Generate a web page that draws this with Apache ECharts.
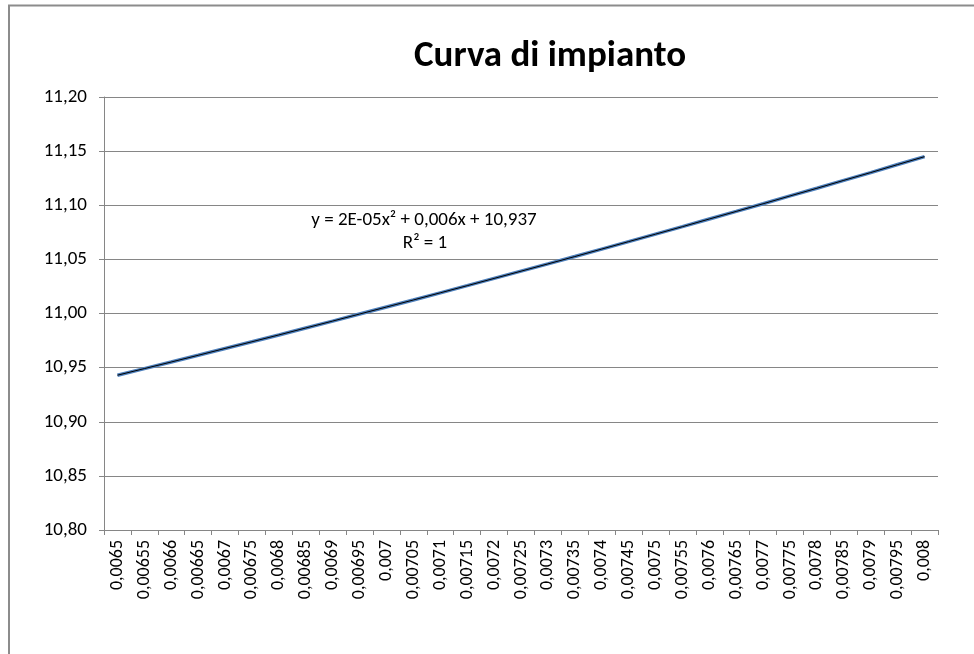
<!DOCTYPE html>
<html>
<head>
<meta charset="utf-8">
<script src="https://cdn.jsdelivr.net/npm/echarts@6/dist/echarts.min.js"></script>
<style>
  html, body { margin: 0; padding: 0; background: #fff; }
  #chart { width: 974px; height: 654px; }
</style>
</head>
<body>
<div id="chart"></div>
<script>
// categorie asse x (come in Excel, con la virgola)
var categories = ['0,0065','0,00655','0,0066','0,00665','0,0067','0,00675','0,0068','0,00685','0,0069','0,00695',
  '0,007','0,00705','0,0071','0,00715','0,0072','0,00725','0,0073','0,00735','0,0074','0,00745',
  '0,0075','0,00755','0,0076','0,00765','0,0077','0,00775','0,0078','0,00785','0,0079','0,00795','0,008'];

// valori
var impianto = [10.9430, 10.9491, 10.9552, 10.9614, 10.9677, 10.9739, 10.9802, 10.9866, 10.9930, 10.9995,
  11.0060, 11.0125, 11.0191, 11.0257, 11.0324, 11.0391, 11.0458, 11.0526, 11.0595, 11.0664,
  11.0733, 11.0802, 11.0873, 11.0943, 11.1014, 11.1086, 11.1157, 11.1230, 11.1302, 11.1376, 11.1449];

var titolo = 'Curva di impianto';
var equazione = 'y = 2E-05x² + 0,006x + 10,937';
var erre = 'R² = 1';

var font = 'Carlito, "Liberation Sans", sans-serif';
var grigio = '#868686';

var myChart = echarts.init(document.getElementById('chart'));
var option = {
  animation: false,
  backgroundColor: '#fff',
  title: {
    text: titolo,
    left: 545,
    top: 33,
    textAlign: 'center',
    textStyle: { fontFamily: font, fontSize: 37, fontWeight: 'bold', color: '#000' }
  },
  grid: { left: 104, right: 36, top: 97, bottom: 124 },
  xAxis: {
    type: 'category',
    data: categories,
    boundaryGap: true,
    axisLine: { lineStyle: { color: grigio, width: 1 } },
    axisTick: { show: true, length: 5, lineStyle: { color: grigio } },
    axisLabel: { rotate: 90, margin: 10, color: '#000', fontFamily: font, fontSize: 18, interval: 0 }
  },
  yAxis: {
    type: 'value',
    min: 10.8,
    max: 11.2,
    interval: 0.05,
    axisLine: { show: true, lineStyle: { color: grigio, width: 1 } },
    axisTick: { show: true, length: 5, lineStyle: { color: grigio } },
    axisLabel: {
      margin: 17, color: '#000', fontFamily: font, fontSize: 19,
      formatter: function (v) { return v.toFixed(2).replace('.', ','); }
    },
    splitLine: { lineStyle: { color: grigio, width: 1 } }
  },
  series: [
    {
      name: 'Curva',
      type: 'line',
      data: impianto,
      symbol: 'none',
      lineStyle: { color: '#4F81BD', width: 3.5 }
    },
    {
      name: 'Polinomiale',
      type: 'line',
      data: impianto,
      symbol: 'none',
      lineStyle: { color: '#000', width: 1 }
    }
  ],
  graphic: [
    {
      type: 'rect',
      silent: true,
      shape: { x: 9, y: 5.5, width: 1000, height: 700 },
      style: { fill: 'none', stroke: '#8c8c8c', lineWidth: 2 }
    },
    {
      type: 'text',
      x: 424,
      y: 220,
      style: { text: equazione, fill: '#000', font: '19px ' + font, align: 'center', verticalAlign: 'middle' }
    },
    {
      type: 'text',
      x: 425,
      y: 243,
      style: { text: erre, fill: '#000', font: '19px ' + font, align: 'center', verticalAlign: 'middle' }
    }
  ]
};
myChart.setOption(option);
</script>
</body>
</html>
